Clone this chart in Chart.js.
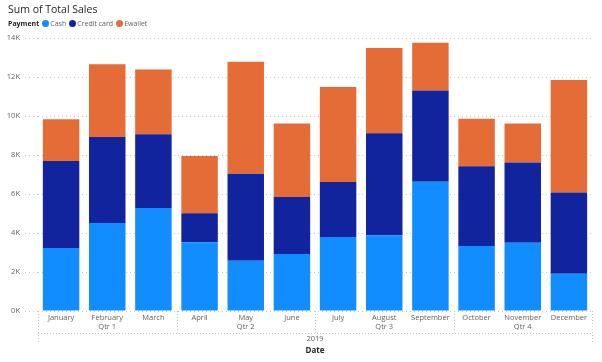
<!DOCTYPE html>
<html>
<head>
<meta charset="utf-8">
<script src="https://cdn.jsdelivr.net/npm/chart.js@4"></script>
<style>
  body { margin: 0; background: #fff; font-family: "Open Sans", "Noto Sans", sans-serif; }
  #wrap { position: relative; width: 602px; height: 362px; }
  #title { position: absolute; left: 8px; top: 2px; font-size: 10.5px; color: #252423; }
  #legend { position: absolute; left: 8px; top: 19px; font-size: 7px; color: #605e5c; display: flex; align-items: center; }
  #legend b { color: #252423; margin-right: 3px; }
  .item { display: flex; align-items: center; margin-right: 3px; }
  .dot { width: 7px; height: 7px; border-radius: 50%; margin-right: 1px; }
  canvas { position: absolute; left: 0; top: 0; }
</style>
</head>
<body>
<div id="wrap">
  <canvas id="salesChart" width="602" height="362"></canvas>
  <div id="title">Sum of Total Sales</div>
  <div id="legend"><b>Payment</b></div>
</div>
<script>
// Chart data
const months = ["January", "February", "March", "April", "May", "June",
  "July", "August", "September", "October", "November", "December"];
const quarters = ["Qtr 1", "Qtr 2", "Qtr 3", "Qtr 4"];
const yearLabel = "2019";
const cashSales = [3230, 4510, 5280, 3520, 2580, 2920, 3790, 3880, 6630, 3330, 3500, 1910];
const creditSales = [4460, 4410, 3780, 1490, 4460, 2930, 2830, 5230, 4680, 4090, 4110, 4170];
const ewalletSales = [2140, 3730, 3330, 2940, 5740, 3760, 4870, 4380, 2450, 2440, 2000, 5770];
const seriesNames = ["Cash", "Credit card", "Ewallet"];
const seriesColors = ["#118DFF", "#12239E", "#E66C37"];

// Build legend
const legend = document.getElementById("legend");
seriesNames.forEach((name, i) => {
  const item = document.createElement("span");
  item.className = "item";
  item.innerHTML = `<span class="dot" style="background:${seriesColors[i]}"></span>${name}`;
  legend.appendChild(item);
});

const dotted = "#c8c6c4";

// Draws the quarter / year levels of the date axis
const hierarchyAxis = {
  id: "hierarchyAxis",
  afterDraw(chart) {
    const ctx = chart.ctx;
    const x = chart.scales.x;
    const area = chart.chartArea;
    const step = x.getPixelForValue(1) - x.getPixelForValue(0);
    const left = x.getPixelForValue(0) - step / 2;
    const right = x.getPixelForValue(months.length - 1) + step / 2;
    const lineY = 333;

    ctx.save();
    ctx.strokeStyle = dotted;
    ctx.lineWidth = 1;
    ctx.setLineDash([1, 2]);
    ctx.beginPath();
    // quarter separators
    for (let q = 1; q < quarters.length; q++) {
      const px = Math.round(left + q * 3 * step) + 0.5;
      ctx.moveTo(px, area.bottom);
      ctx.lineTo(px, lineY);
    }
    // outer edges
    [left, right].forEach((p) => {
      const px = Math.round(p) + 0.5;
      ctx.moveTo(px, area.bottom);
      ctx.lineTo(px, 344);
    });
    ctx.moveTo(left, lineY + 0.5);
    ctx.lineTo(right, lineY + 0.5);
    ctx.stroke();
    ctx.setLineDash([]);

    ctx.fillStyle = "#605e5c";
    ctx.font = '7.5px "Open Sans"';
    ctx.textAlign = "center";
    ctx.textBaseline = "middle";
    quarters.forEach((q, i) => {
      ctx.fillText(q, x.getPixelForValue(i * 3 + 1), 327);
    });
    ctx.fillText(yearLabel, (left + right) / 2, 339);

    ctx.fillStyle = "#252423";
    ctx.font = 'bold 8px "Open Sans"';
    ctx.fillText("Date", (left + right) / 2, 351);
    ctx.restore();
  },
};

new Chart(document.getElementById("salesChart"), {
  type: "bar",
  data: {
    labels: months,
    datasets: [
      { label: seriesNames[0], data: cashSales, backgroundColor: seriesColors[0] },
      { label: seriesNames[1], data: creditSales, backgroundColor: seriesColors[1] },
      { label: seriesNames[2], data: ewalletSales, backgroundColor: seriesColors[2] },
    ],
  },
  options: {
    responsive: false,
    animation: false,
    layout: { padding: { top: 38, right: 10, left: 0, bottom: 0 } },
    datasets: { bar: { categoryPercentage: 1, barPercentage: 0.79 } },
    plugins: {
      legend: { display: false },
      tooltip: { enabled: false },
    },
    scales: {
      x: {
        stacked: true,
        grid: { display: false, drawTicks: false },
        border: { display: false },
        ticks: {
          autoSkip: false,
          maxRotation: 0,
          padding: 2,
          color: "#605e5c",
          font: { family: "Open Sans", size: 7.5 },
        },
        afterFit: (scale) => { scale.height = 51; },
      },
      y: {
        stacked: true,
        min: 0,
        max: 14000,
        border: { display: false, dash: [1, 3] },
        grid: {
          color: dotted,
          tickLength: 13,
          tickBorderDash: [1, 3],
          tickColor: dotted,
        },
        ticks: {
          stepSize: 2000,
          padding: 5,
          color: "#605e5c",
          font: { family: "Open Sans", size: 7.5 },
          callback: (v) => v / 1000 + "K",
        },
        afterFit: (scale) => { scale.width = 38; },
      },
    },
  },
  plugins: [hierarchyAxis],
});
</script>
</body>
</html>
